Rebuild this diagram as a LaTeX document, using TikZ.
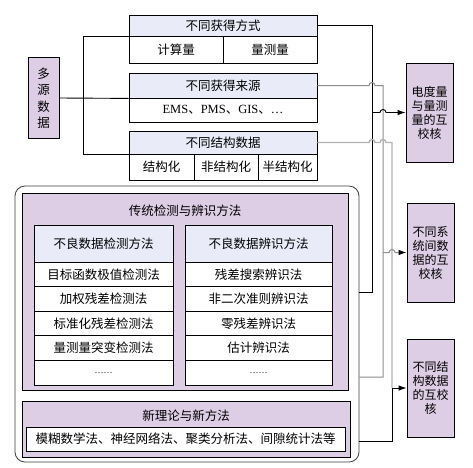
\documentclass[tikz,border=0pt]{standalone}
\usepackage{fontspec}
\setmainfont{Liberation Serif}
\newfontfamily\cjk{Noto Sans CJK SC}
\usetikzlibrary{arrows.meta}
\definecolor{lav}{RGB}{221,205,229}
\definecolor{hdr}{RGB}{233,236,248}
\definecolor{gA}{RGB}{140,140,140}
\definecolor{gB}{RGB}{178,178,178}
\definecolor{frame}{RGB}{60,60,60}
\begin{document}
\begin{tikzpicture}[x=1pt,y=-1pt,
  txt/.style={font=\cjk\fontsize{12.5}{15}\selectfont},
  cell/.style={txt,draw=black,line width=0.8pt,fill=white,inner sep=0pt},
  hdrcell/.style={cell,fill=hdr},
  purp/.style={draw=black,line width=0.8pt,fill=lav,inner sep=0pt},
  rbox/.style={purp,align=center,font=\cjk\fontsize{12}{14}\selectfont,minimum width=47,minimum height=99},
  conn/.style={draw=black,line width=0.9pt},
  connA/.style={draw=gA,line width=1pt},
  connB/.style={draw=gB,line width=1.4pt},
  arr/.style={-{Latex[length=8pt,width=5.5pt,black]}},
  hop/.style={}
]
\useasboundingbox (0,0) rectangle (473,467);
\fill[white] (0,0) rectangle (473,467);

% source
\node[purp,align=center,font=\cjk\fontsize{12.5}{16.5}\selectfont,minimum width=31,minimum height=81] (src) at (43.5,98) {多\\源\\数\\据};

% box 1
\node[hdrcell,minimum width=188,minimum height=21] (h1) at (223,25.5) {不同获得方式};
\node[cell,minimum width=94,minimum height=27] (c11) at (176,49.5) {计算量};
\node[cell,minimum width=94,minimum height=27] (c12) at (270,49.5) {量测量};
% box 2
\node[hdrcell,minimum width=188,minimum height=25] (h2) at (223,85.5) {不同获得来源};
\node[cell,minimum width=188,minimum height=24] (b2) at (223,110) {\rmfamily EMS{\cjk 、}PMS{\cjk 、}GIS{\cjk 、}…};
% box 3
\node[hdrcell,minimum width=188,minimum height=23] (h3) at (223,142.5) {不同结构数据};
\node[cell,minimum width=65,minimum height=26] (c31) at (161.5,167) {结构化};
\node[cell,minimum width=64,minimum height=26] (c32) at (226,167) {非结构化};
\node[cell,minimum width=59,minimum height=26] (c33) at (287.5,167) {半结构化};

% right boxes
\node[rbox] (r1) at (429.5,112.5) {电度量\\与量测\\量的互\\校核};
\node[rbox] (r2) at (430.5,252.5) {不同系\\统间数\\据的互\\校核};
\node[rbox,minimum height=98] (r3) at (430.5,388) {不同结\\构数据\\的互校\\核};

% methods frame
\node[draw=frame,line width=0.8pt,rounded corners=10pt,fill=white,minimum width=344,minimum height=276,inner sep=0pt] (outer) at (187,324) {};
\node[purp,minimum width=326,minimum height=197] (trad) at (185,291.5) {};
\node[txt] (tradT) at (185,211) {传统检测与辨识方法};

\node[hdrcell,minimum width=139,minimum height=37] (lh) at (103.5,243.5) {不良数据检测方法};
\node[cell,minimum width=139,minimum height=24.6] (l1) at (103.5,274.3) {目标函数极值检测法};
\node[cell,minimum width=139,minimum height=24.6] (l2) at (103.5,298.9) {加权残差检测法};
\node[cell,minimum width=139,minimum height=24.6] (l3) at (103.5,323.5) {标准化残差检测法};
\node[cell,minimum width=139,minimum height=24.6] (l4) at (103.5,348.1) {量测量突变检测法};
\node[cell,minimum width=139,minimum height=24.6,font=\rmfamily\fontsize{9}{10}\selectfont] (l5) at (103.5,372.7) {……};

\node[hdrcell,minimum width=147,minimum height=37] (rh) at (258.5,243.5) {不良数据辨识方法};
\node[cell,minimum width=147,minimum height=24.6] (m1) at (258.5,274.3) {残差搜索辨识法};
\node[cell,minimum width=147,minimum height=24.6] (m2) at (258.5,298.9) {非二次准则辨识法};
\node[cell,minimum width=147,minimum height=24.6] (m3) at (258.5,323.5) {零残差辨识法};
\node[cell,minimum width=147,minimum height=24.6] (m4) at (258.5,348.1) {估计辨识法};
\node[cell,minimum width=147,minimum height=24.6,font=\rmfamily\fontsize{9}{10}\selectfont] (m5) at (258.5,372.7) {……};

\node[purp,minimum width=328,minimum height=56] (newb) at (186,429) {};
\node[txt] (newT) at (186,415.5) {新理论与新方法};
\node[cell,minimum width=319,minimum height=24] (newL) at (185.5,439) {模糊数学法、神经网络法、聚类分析法、间隙统计法等};

% left connectors
\coordinate (tk) at (83,0);
\draw[conn] (src.east) -- (h2.south west);
\draw[conn] (h1.south west) -| (tk |- h3.south west) -- (h3.south west);

% right connectors
\coordinate (x1) at (372,0);
\coordinate (x2) at (383,0);
\coordinate (x3) at (392,0);
\coordinate (yA) at (0,292);
\coordinate (yB) at (0,377);
\coordinate (yC) at (0,441);

\draw[conn] (h1.east) -| (x1 |- yA) -- (outer.east |- yA);
\draw[connA] (h2.east) -- ([xshift=-3pt]x1 |- h2.east) arc[start angle=180,end angle=0,radius=3pt] -| (x2 |- yB) -- (outer.east |- yB);
\draw[connB] (h3.east) -- ([xshift=-3pt]x1 |- h3.east) arc[start angle=180,end angle=0,radius=3pt]
  -- ([xshift=-3pt]x2 |- h3.east) arc[start angle=180,end angle=0,radius=3pt] -| (x3 |- r3.west);
\draw[conn] (outer.east |- yC) -| (x3 |- r3.west);

\draw[conn,arr] (x1 |- r1.west) -- ([xshift=-3pt]x2 |- r1.west) arc[start angle=180,end angle=0,radius=3pt] -- (r1.west);
\draw[connA,arr] (x2 |- r2.west) -- ([xshift=-3pt]x3 |- r2.west) arc[start angle=180,end angle=0,radius=3pt] -- (r2.west);
\draw[conn,arr] (x3 |- r3.west) -- (r3.west);
\end{tikzpicture}
\end{document}
